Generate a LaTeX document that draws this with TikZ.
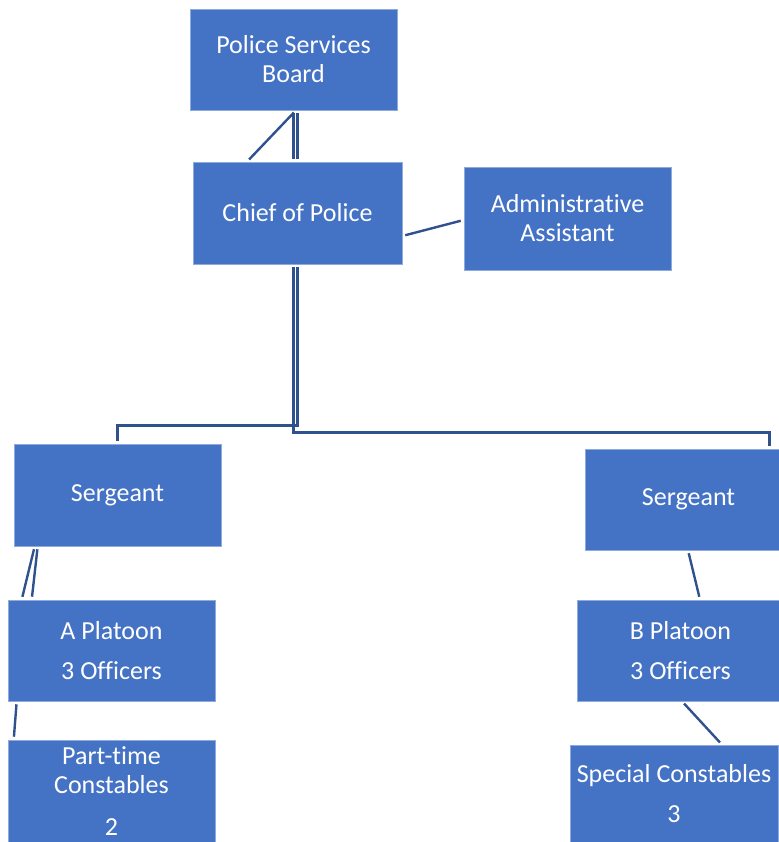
\documentclass[tikz,border=0pt]{standalone}
\usepackage{fontspec}
\setmainfont{Carlito}[Ligatures=NoCommon]
\usepackage{tikz}
\definecolor{boxblue}{RGB}{68, 114, 196}
\definecolor{boxedge}{RGB}{143, 170, 220}
\definecolor{linkblue}{RGB}{47, 82, 143}
\tikzset{
  orgbox/.style={
    rectangle, fill=boxblue, draw=boxedge, line width=0.6pt,
    text=white, align=center, inner sep=0pt,
    font=\fontsize{26}{29}\selectfont
  },
  link/.style={
    draw=linkblue, line width=2.4pt, shorten <=3pt, shorten >=3pt
  }
}
\begin{document}
\begin{tikzpicture}[x=1pt, y=-1pt]
  \useasboundingbox (0,0) rectangle (778,842);

  % Top of the chart
  \node[orgbox, minimum width=207pt, minimum height=101pt] (board) at (293.5,59.5)
    {Police Services\\Board};
  \node[orgbox, minimum width=209pt, minimum height=102pt] (chief) at (297.5,213)
    {Chief of Police};
  \node[orgbox, minimum width=207pt, minimum height=103pt] (admin) at (567.5,218.5)
    {Administrative\\Assistant};

  % Sergeants
  \node[orgbox, minimum width=207pt, minimum height=102pt] (sgtA) at (117.5,495)
    {Sergeant};
  \node[orgbox, minimum width=207pt, minimum height=101pt] (sgtB) at (688.5,499.5)
    {Sergeant};

  % Platoons
  \node[orgbox, minimum width=207pt, minimum height=101pt] (platA) at (111.5,650.5)
    {A Platoon\\[11pt]3 Officers};
  \node[orgbox, minimum width=207pt, minimum height=101pt] (platB) at (680.5,650.5)
    {B Platoon\\[11pt]3 Officers};

  % Constables
  \node[orgbox, minimum width=207pt, minimum height=102pt] (parttime) at (111.5,791)
    {Part-time\\Constables\\[13pt]2};
  \node[orgbox, minimum width=208pt, minimum height=97pt] (special) at (674,793.5)
    {Special Constables\\[11pt]3};

  % Connectors
  \draw[link] (board.south) -- (board.south |- chief.north);
  \draw[link] (chief.north) -- (chief.north |- board.south);
  \draw[link] ([xshift=2.5pt]board.south) -- ([xshift=-50.5pt]chief.north);
  \draw[link] ([yshift=-23pt]chief.east) -- ([yshift=-1.5pt]admin.west);
  \draw[link] (chief.south) -- ++(0,161) -| (sgtA.north);
  \draw[link] ([xshift=-4pt]chief.south) -- ++(0,168) -| ([xshift=81pt]sgtB.north);
  \draw[link] ([xshift=21pt]sgtA.south west) -- ([xshift=14pt]platA.north west);
  \draw[link] ([xshift=24pt]sgtA.south west) -- ([xshift=24pt]platA.north west);
  \draw[link] ([xshift=9pt]platA.south west) -- ([xshift=6pt]parttime.north west);
  \draw[link] ([xshift=-0.5pt]sgtB.south) -- ([xshift=19.5pt]platB.north);
  \draw[link] ([xshift=1.5pt]platB.south) -- ([xshift=48pt]special.north);
\end{tikzpicture}
\end{document}
